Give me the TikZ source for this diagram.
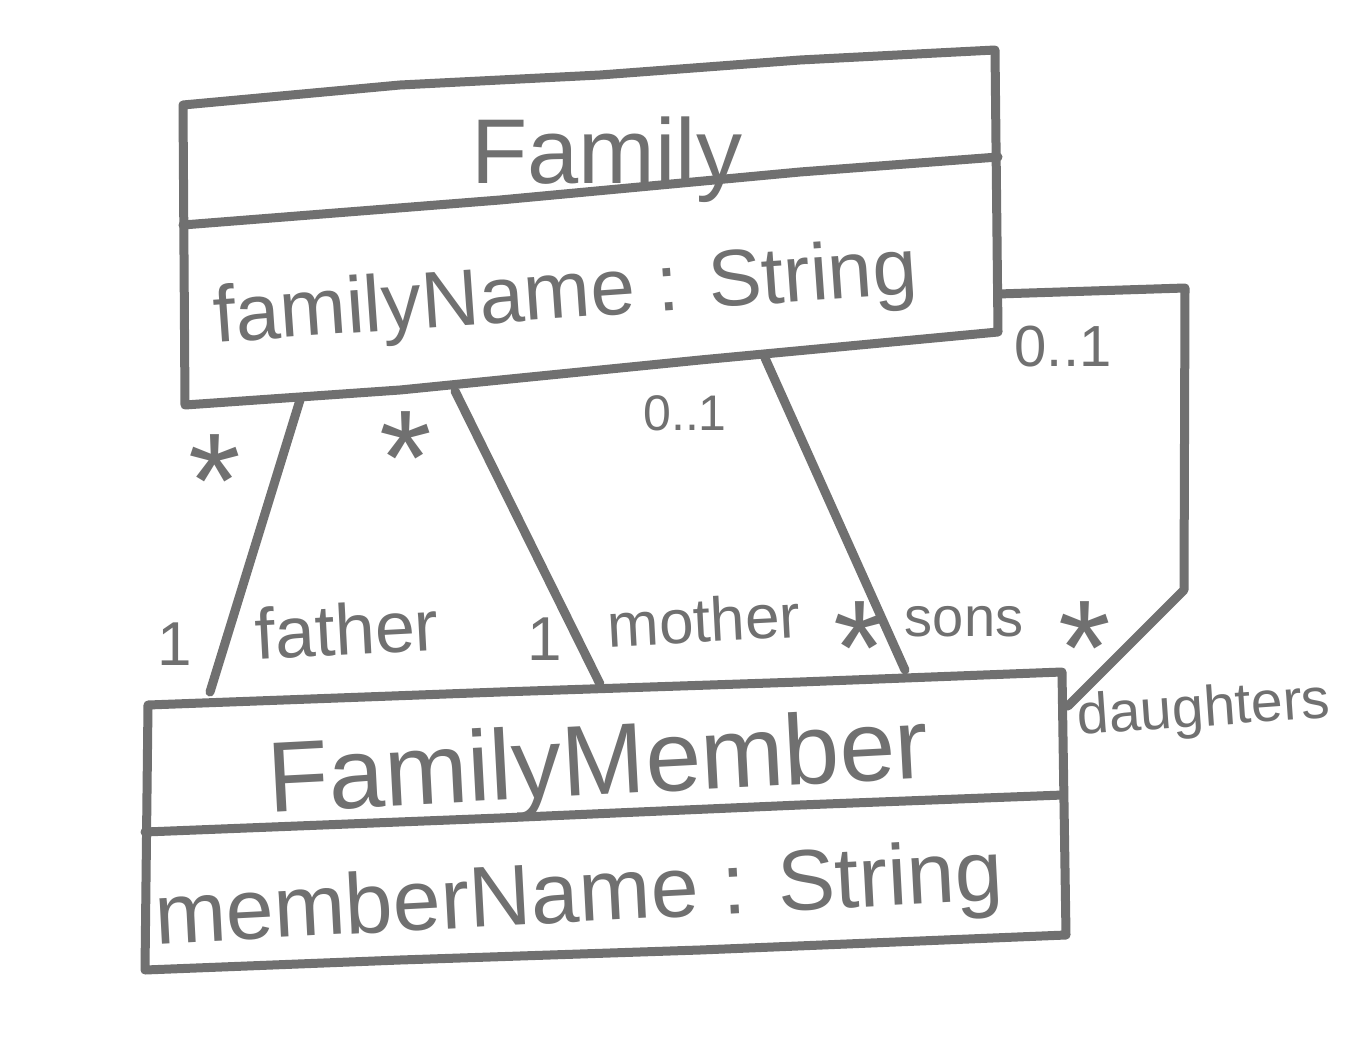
\documentclass[tikz,border=0pt]{standalone}
\usepackage{fontspec}
\setmainfont{Liberation Sans}
\definecolor{ink}{RGB}{112,112,112}
\newcommand{\myast}{\smash{\raisebox{-39pt}{*}}}
\begin{document}
\begin{tikzpicture}[x=1pt,y=-1pt,color=ink,line width=9pt,line cap=round,line join=round,
  lbl/.style={inner sep=0pt,anchor=base,text=ink},
  star/.style={inner sep=0pt,anchor=center,text=ink,text height=47pt,text depth=0pt,
               font=\fontsize{135}{135}\selectfont},
  mult/.style={lbl,font=\fontsize{50}{50}\selectfont},
  role/.style={lbl,font=\fontsize{62}{62}\selectfont}]
\fill[white] (0,0) rectangle (1354,1051);
\useasboundingbox (0,0) rectangle (1354,1051);
% Family class box
\draw (183,105) -- (400,85) -- (600,75) -- (800,60) -- (995,50) -- (998,332)
      -- (700,360) -- (400,390) -- (185,405) -- cycle;
\draw (183,225) -- (500,200) -- (800,172) -- (998,157);
\node[lbl,font=\fontsize{92}{92}\selectfont] (famname) at (607,184) {Family};
\node[lbl,font=\fontsize{80}{80}\selectfont,rotate=4] (famattr) at (567,318) {familyName : String};
% FamilyMember class box
\draw (148,705) -- (500,692) -- (800,682) -- (1062,672) -- (1066,935)
      -- (700,950) -- (400,960) -- (145,970) -- cycle;
\draw (145,832) -- (500,818) -- (800,805) -- (1063,795);
\node[lbl,font=\fontsize{100}{100}\selectfont,rotate=3] (memname) at (600,795) {FamilyMember};
\node[lbl,font=\fontsize{86}{86}\selectfont,rotate=3] (memattr) at (580,922) {memberName : String};
% connector end points
\coordinate (fF) at (300,400);   \coordinate (mF) at (210,692);
\coordinate (fM) at (455,391);   \coordinate (mM) at (600,684);
\coordinate (fS) at (765,358);   \coordinate (mS) at (905,670);
\coordinate (fD) at (998,294);   \coordinate (mD) at (1068,706);
\coordinate (d1) at (1185,288);  \coordinate (d2) at (1184,590);
% connectors
\draw (fF) -- (mF);
\draw (fM) -- (mM);
\draw (fS) -- (mS);
\draw (fD) -- (d1) -- (d2) -- (mD);
% multiplicities and roles
\node[star] (s1) at (215,465) {\myast};
\node[star] (s2) at (406,442) {\myast};
\node[star] (s3) at (860,632) {\myast};
\node[star] (s4) at (1085,632) {\myast};
\node[mult] (z1) at (685,430) {0..1};
\node[mult,font=\fontsize{58}{58}\selectfont] (z2) at (1063,366) {0..1};
\node[role] (o1) at (175,665) {1};
\node[role] (o2) at (545,660) {1};
\node[role,font=\fontsize{72}{72}\selectfont,rotate=3] (rf) at (348,655) {father};
\node[role,rotate=3] (rm) at (705,642) {mother};
\node[role,font=\fontsize{56}{56}\selectfont] (rs) at (964,636) {sons};
\node[role,font=\fontsize{57}{57}\selectfont,rotate=4] (rd) at (1205,726) {daughters};
\end{tikzpicture}
\end{document}
